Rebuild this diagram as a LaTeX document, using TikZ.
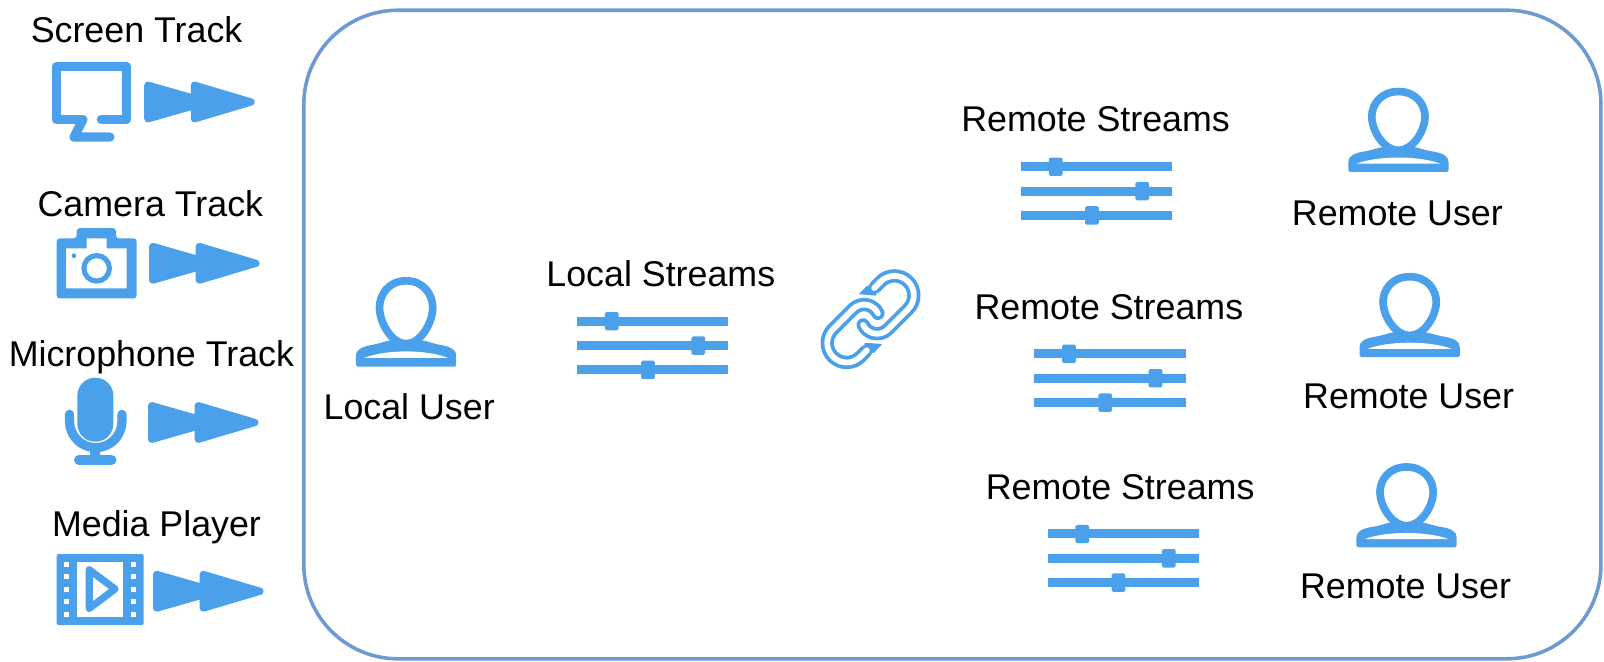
\documentclass[tikz,border=0pt]{standalone}
\usepackage{fontspec}
\setmainfont{Liberation Sans}
\definecolor{iconblue}{HTML}{4AA0EA}
\definecolor{frameblue}{HTML}{6C9BD2}
\tikzset{
  label text/.style={font=\fontsize{35}{40}\selectfont,text=black,inner sep=0pt,anchor=base},
  ink/.style={fill=iconblue,draw=iconblue,line width=7pt,line join=round},
  iconline/.style={draw=iconblue,line width=9pt,line cap=round,line join=round},
  pics/ffarrows/.style={code={
    \path[ink] (3.5,-16.5)--(3.5,16.5)--(49,3.5)--(49,16.5)--(104.5,0)--(49,-16.5)--(49,-3.5)--cycle;
  }},
  pics/sliders/.style={code={
    \foreach \ypos/\xpos in {0/34,23.8/118.6,47.6/69.4}{
      \draw[iconblue,line width=8.8pt] (0,\ypos)--(148,\ypos);
      \fill[iconblue,rounded corners=1.5pt] (\xpos-6.7,\ypos-9) rectangle (\xpos+6.7,\ypos+9);
    }
  }},
  pics/person/.style={code={
    \fill[iconblue,rounded corners=1.5pt] (-49,0)--(-49,-8) .. controls (-49,-16) and (-43,-18.5) .. (-30,-20.5)--(-17,-24)--(17,-24)--(30,-20.5) .. controls (43,-18.5) and (49,-16) .. (49,-8)--(49,0)--cycle;
    \fill[white] (-41,-8) .. controls (-20,-16) and (20,-16) .. (41,-8)--cycle;
    \draw[iconblue,fill=white,line width=7.5pt] (0,-78.5) .. controls (17,-78.5) and (26,-66) .. (26,-54) .. controls (26,-40) and (14,-21) .. (0,-21) .. controls (-14,-21) and (-26,-40) .. (-26,-54) .. controls (-26,-66) and (-17,-78.5) .. (0,-78.5);
  }}
}
\begin{document}
\begin{tikzpicture}[x=1pt,y=-1pt]
  \useasboundingbox (0,0) rectangle (1568,647);
  \node[draw=frameblue,line width=3.5pt,rounded corners=92pt,minimum width=1268pt,minimum height=634pt,anchor=north west,inner sep=0pt,outer sep=0pt](frame)at(297,10){};
  % labels on the left
  \node[label text](screen)at(133.5,42){Screen Track};
  \node[label text](camera)at(147,211.5){Camera Track};
  \node[label text](mic)at(148,358.5){Microphone Track};
  \node[label text](player)at(153,524){Media Player};
  \node[label text](localuser)at(400,410){Local User};
  \node[label text](localstreams)at(646,280.5){Local Streams};
  \node[label text](remote1)at(1071,129){Remote Streams};
  \node[label text](remote2)at(1084,312){Remote Streams};
  \node[label text](remote3)at(1095,488){Remote Streams};
  \node[label text](user1)at(1366,220.5){Remote User};
  \node[label text](user2)at(1377,399.5){Remote User};
  \node[label text](user3)at(1374,585.5){Remote User};
  % double arrows
  \pic at(141,99.7){ffarrows};
  \pic at(145.7,257.4){ffarrows};
  \pic at(144.7,413){ffarrows};
  \pic at(149.6,578){ffarrows};
  % screen
  \draw[iconline] (81,117)--(55,117)--(55,65)--(124,65)--(124,117)--(99,117);
  \draw[iconline] (81,117)--(72.4,134)--(107.5,134);
  % camera
  \path[fill=iconblue,even odd rule] [rounded corners=3pt] (55.4,233)--(75,233)--(75,223)--(113.4,223)--(113.4,233)--(133.6,233)--(133.6,291.7)--(55.4,291.7)--cycle
    [sharp corners] (64.5,242.8)--(84.7,242.8)--(84.7,233)--(104.3,233)--(104.3,242.8)--(123.8,242.8)--(123.8,282)--(64.5,282)--cycle;
  \draw[iconblue,line width=5pt] (94.5,262.3) circle (12.5pt);
  \fill[iconblue] (72.3,250) circle (2.3pt);
  % microphone
  \fill[iconblue,rounded corners=17.5pt] (75.6,369.2) rectangle (110.8,431.8);
  \draw[iconline] (68,405)--(68,412) arc (180:360:25.6pt)--(119.2,405);
  \draw[iconblue,line width=9.8pt] (93,440)--(93,450);
  \draw[iconblue,line width=9.8pt,line cap=round] (77.3,449.7)--(109,449.7);
  % film
  \path[fill=iconblue,rounded corners=2pt] (55.4,541.6) rectangle (140.5,611);
  \fill[white] (75.6,549.4) rectangle (120.6,602.9);
  \foreach \ypos in {551.7,563.8,576.1,588.2,600.6}{
    \fill[white] (62.9,\ypos-2.3) rectangle (67.5,\ypos+2.3);
    \fill[white] (128,\ypos-2.3) rectangle (133,\ypos+2.3);
  }
  \draw[iconblue,line width=7pt,line join=round] (87.3,557)--(112.4,575.8)--(87.3,594.7)--cycle;
  % people
  \pic[yscale=1.07] at(397,358.5){person};
  \pic at(1367,168){person};
  \pic at(1378,349){person};
  \pic at(1375,535){person};
  % sliders
  \pic at(564,314){sliders};
  \pic at(998,163){sliders};
  \pic at(1011,346){sliders};
  \pic at(1024,522){sliders};
  % link
  \begin{scope}[shift={(851,312)},x=1pt,y=1pt,rotate=45]
    \foreach \turn in {0,180}{
      \begin{scope}[rotate=\turn]
        \fill[iconblue,rounded corners=1pt] (-22,-25.5)--(-9,-25.5)--(-20,-12.5)--(-22,-12.5)--cycle;
        \draw[iconblue,line width=13pt,line cap=round] (-26,-19)--(-33,-19) arc (-90:-270:19pt)--(-5,19) arc (90:-20:15pt);
        \draw[white,line width=5.6pt,line cap=round] (-24,-19)--(-33,-19) arc (-90:-270:19pt)--(-5,19) arc (90:-20:15pt);
      \end{scope}
    }
  \end{scope}
\end{tikzpicture}
\end{document}
